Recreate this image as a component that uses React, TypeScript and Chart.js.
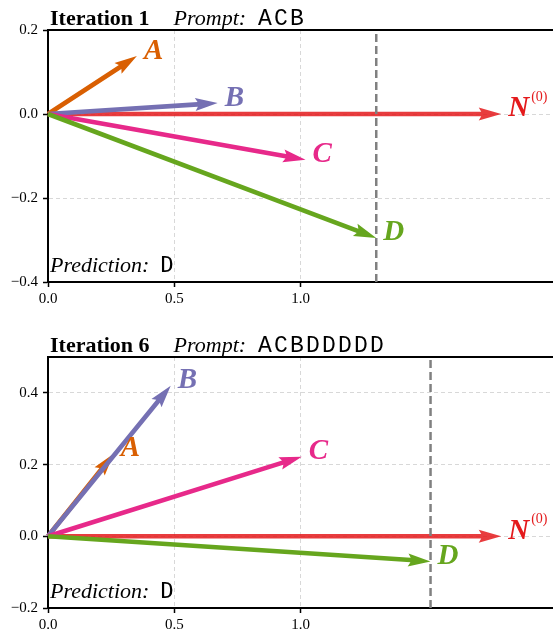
import React, { useEffect, useRef } from 'react';
import { Chart, registerables } from 'chart.js';

Chart.register(...registerables);

// ---- data ----
const arrowNames = ['N', 'A', 'B', 'C', 'D'];
const iter1X = [1.795, 0.352, 0.672, 1.02, 1.3];
const iter1Y = [0, 0.138, 0.026, -0.109, -0.295];
const iter6X = [1.795, 0.26, 0.486, 1.005, 1.515];
const iter6Y = [0, 0.23, 0.42, 0.222, -0.07];
const iter1Projection = 1.3;
const iter6Projection = 1.515;
const xTickValues = [0, 0.5, 1.0];
const iter1YTicks = [-0.4, -0.2, 0, 0.2];
const iter6YTicks = [-0.2, 0, 0.2, 0.4];
const iter1Prompt = 'ACB';
const iter6Prompt = 'ACBDDDDD';
const iter1Prediction = 'D';
const iter6Prediction = 'D';

// ---- styles ----
const fillColors = ['rgba(228,26,28,0.85)', '#d95f02', '#7570b3', '#e7298a', '#66a61e'];
const textColors = ['#e41a1c', '#d95f02', '#7570b3', '#e7298a', '#66a61e'];
const SERIF = '"Liberation Serif", "Times New Roman", serif';

const fmt = (v: number) => {
  const s = Math.abs(v).toFixed(1);
  return v < -1e-9 ? '\u2212' + s : s;
};

type PanelCfg = {
  iteration: number;
  prompt: string;
  prediction: string;
  xs: number[];
  ys: number[];
  yMin: number;
  yMax: number;
  yTicks: number[];
  projection: number;
  height: number;
  top: number;
  axisHeight: number;
};

const panels: PanelCfg[] = [
  {
    iteration: 1, prompt: iter1Prompt, prediction: iter1Prediction,
    xs: iter1X, ys: iter1Y, yMin: -0.4, yMax: 0.2, yTicks: iter1YTicks,
    projection: iter1Projection, height: 315, top: 30, axisHeight: 33,
  },
  {
    iteration: 6, prompt: iter6Prompt, prediction: iter6Prediction,
    xs: iter6X, ys: iter6Y, yMin: -0.2, yMax: 0.5, yTicks: iter6YTicks,
    projection: iter6Projection, height: 316, top: 42, axisHeight: 23,
  },
];

function drawArrow(ctx: CanvasRenderingContext2D, x0: number, y0: number, x1: number, y1: number, color: string) {
  const dx = x1 - x0, dy = y1 - y0;
  const len = Math.hypot(dx, dy);
  const ux = dx / len, uy = dy / len;
  const nx = -uy, ny = ux;
  const hl = 20, hw = 6.5, sw = 2.3, over = 2.5;
  const bx = x1 - ux * hl, by = y1 - uy * hl;
  const cx = bx - ux * over, cy = by - uy * over;
  ctx.beginPath();
  ctx.moveTo(x0 + nx * sw, y0 + ny * sw);
  ctx.lineTo(bx + nx * sw, by + ny * sw);
  ctx.lineTo(cx + nx * hw, cy + ny * hw);
  ctx.lineTo(x1, y1);
  ctx.lineTo(cx - nx * hw, cy - ny * hw);
  ctx.lineTo(bx - nx * sw, by - ny * sw);
  ctx.lineTo(x0 - nx * sw, y0 - ny * sw);
  ctx.closePath();
  ctx.fillStyle = color;
  ctx.fill();
}

function Panel({ cfg }: { cfg: PanelCfg }) {
  const ref = useRef<HTMLCanvasElement>(null);
  useEffect(() => {
    const canvas = ref.current;
    if (!canvas) return;
    const plugin = {
      id: 'arrowsAndText',
      beforeDatasetsDraw(chart: any) {
        const ctx = chart.ctx as CanvasRenderingContext2D;
        const meta = chart.getDatasetMeta(0);
        const ox = chart.scales.x.getPixelForValue(0);
        const oy = chart.scales.y.getPixelForValue(0);
        ctx.save();
        meta.data.forEach((pt: any, i: number) => {
          drawArrow(ctx, ox, oy, pt.x, pt.y, fillColors[i]);
        });
        ctx.restore();
      },
      afterDatasetsDraw(chart: any) {
        const ctx = chart.ctx as CanvasRenderingContext2D;
        const meta = chart.getDatasetMeta(0);
        ctx.save();
        ctx.textAlign = 'left';
        ctx.textBaseline = 'middle';
        meta.data.forEach((pt: any, i: number) => {
          const name = arrowNames[i];
          ctx.fillStyle = textColors[i];
          ctx.font = `bold italic 29px ${SERIF}`;
          const lx = pt.x + 7, ly = pt.y - 5;
          ctx.fillText(name, lx, ly);
          if (name === 'N') {
            const w = ctx.measureText(name).width;
            ctx.font = `14px ${SERIF}`;
            ctx.fillText('(0)', lx + w + 2, ly - 12);
          }
        });
        ctx.restore();
      },
      afterDraw(chart: any) {
        const ctx = chart.ctx as CanvasRenderingContext2D;
        const a = chart.chartArea;
        ctx.save();
        // top spine
        ctx.strokeStyle = '#000';
        ctx.lineWidth = 2;
        ctx.beginPath();
        ctx.moveTo(a.left - 1, a.top);
        ctx.lineTo(a.right, a.top);
        ctx.stroke();
        // title
        ctx.fillStyle = '#000';
        ctx.textBaseline = 'alphabetic';
        ctx.textAlign = 'left';
        const ty = a.top - 5;
        let x = a.left + 2;
        ctx.font = `bold 22px ${SERIF}`;
        const t1 = 'Iteration ' + cfg.iteration;
        ctx.fillText(t1, x, ty);
        x += ctx.measureText(t1).width + 24;
        ctx.font = `italic 22px ${SERIF}`;
        ctx.fillText('Prompt:', x, ty);
        x += ctx.measureText('Prompt:').width + 12;
        ctx.font = '23px "Liberation Mono", monospace';
        for (let i = 0; i < cfg.prompt.length; i++) {
          ctx.fillText(cfg.prompt[i], x + i * 16, ty);
        }
        // prediction
        const py = a.bottom - 10;
        let px = a.left + 2;
        ctx.font = `italic 22px ${SERIF}`;
        ctx.fillText('Prediction:', px, py);
        px += ctx.measureText('Prediction:').width + 11;
        ctx.font = '22px "DejaVu Sans Mono", monospace';
        ctx.fillText(cfg.prediction, px, py);
        ctx.restore();
      },
    };

    const chart = new Chart(canvas, {
      type: 'scatter',
      data: {
        datasets: [
          {
            data: cfg.xs.map((x, i) => ({ x, y: cfg.ys[i] })),
            pointRadius: 0,
            showLine: false,
          },
          {
            data: [{ x: cfg.projection, y: cfg.yMin }, { x: cfg.projection, y: cfg.yMax }],
            showLine: true,
            pointRadius: 0,
            borderColor: '#808080',
            borderWidth: 2.5,
            borderDash: [8, 4],
          },
        ],
      },
      options: {
        responsive: false,
        animation: false,
        events: [],
        devicePixelRatio: 1,
        layout: { padding: { top: cfg.top, left: 0, right: 0, bottom: 0 } },
        plugins: { legend: { display: false }, tooltip: { enabled: false } },
        scales: {
          x: {
            type: 'linear',
            min: 0,
            max: 2,
            afterBuildTicks: (s: any) => { s.ticks = xTickValues.map((v) => ({ value: v })); },
            afterFit: (s: any) => { s.height = cfg.axisHeight; },
            grid: { color: '#d8d8d8', lineWidth: 1, drawTicks: true, tickLength: 5, tickColor: '#000', tickWidth: 1.5 },
            border: { display: true, color: '#000', width: 2, dash: [4, 3] },
            ticks: {
              color: '#000',
              font: { family: SERIF, size: 15 },
              padding: 3,
              maxRotation: 0,
              autoSkip: false,
              callback: (v: any) => fmt(Number(v)),
            },
          },
          y: {
            type: 'linear',
            min: cfg.yMin,
            max: cfg.yMax,
            afterBuildTicks: (s: any) => { s.ticks = cfg.yTicks.map((v) => ({ value: v })); },
            afterFit: (s: any) => { s.width = 48; },
            grid: { color: '#d8d8d8', lineWidth: 1, drawTicks: true, tickLength: 5, tickColor: '#000', tickWidth: 1.5 },
            border: { display: true, color: '#000', width: 2, dash: [4, 3] },
            ticks: {
              color: '#000',
              font: { family: SERIF, size: 15 },
              padding: 5,
              autoSkip: false,
              callback: (v: any) => fmt(Number(v)),
            },
          },
        },
      },
      plugins: [plugin],
    } as any);
    return () => chart.destroy();
  }, [cfg]);
  return <canvas ref={ref} width={553} height={cfg.height} style={{ display: 'block', width: 553, height: cfg.height }} />;
}

export default function App() {
  return (
    <div style={{ position: 'absolute', left: 0, top: 0, width: 553, height: 631, background: '#fff', overflow: 'hidden' }}>
      {panels.map((p) => (
        <Panel key={p.iteration} cfg={p} />
      ))}
    </div>
  );
}
